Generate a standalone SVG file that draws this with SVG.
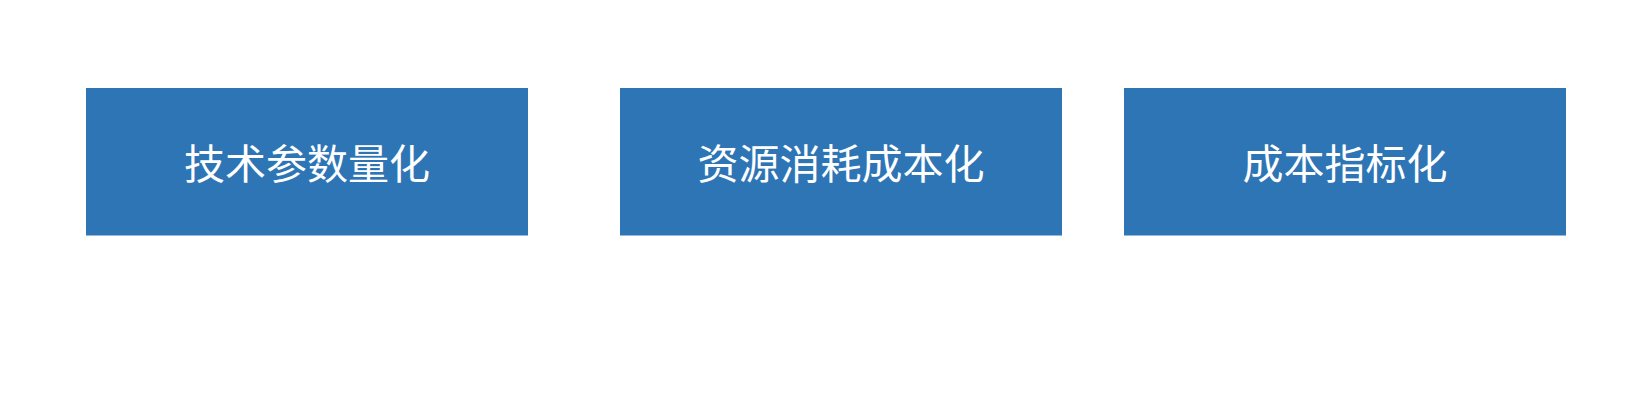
<svg xmlns="http://www.w3.org/2000/svg" width="1650" height="400" viewBox="0 0 1650 400">
<style>
.box{fill:#2E75B6;}
.lbl{fill:#FFFFFF;font-family:"Noto Sans CJK SC","Liberation Serif",sans-serif;font-size:41px;text-anchor:middle;dominant-baseline:central;}
</style>
<rect width="1650" height="400" fill="#FFFFFF"/>
<g id="node1"><rect class="box" x="86" y="88" width="442" height="147.5"/><text class="lbl" x="307" y="161">技术参数量化</text></g>
<g id="node2"><rect class="box" x="620" y="88" width="442" height="147.5"/><text class="lbl" x="841" y="161">资源消耗成本化</text></g>
<g id="node3"><rect class="box" x="1124" y="88" width="442" height="147.5"/><text class="lbl" x="1345" y="161">成本指标化</text></g>
<g id="connectors"></g>
</svg>
